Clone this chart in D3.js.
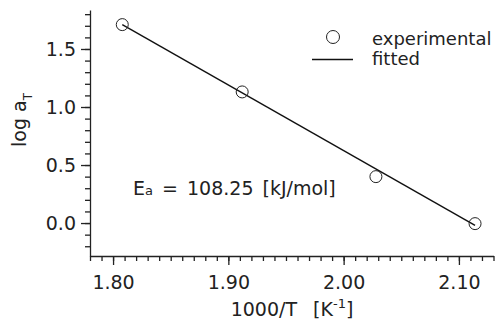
<!DOCTYPE html>
<html lang="en">
<head>
<meta charset="UTF-8">
<title>log aT vs 1000/T</title>
<script src="https://d3js.org/d3.v7.min.js"></script>
<style>
  body { margin: 0; background: #fff; }
  svg text { font-family: "DejaVu Sans", sans-serif; fill: #222; }
  .axis path, .axis line { stroke: #222; stroke-width: 1.3; }
  .axis text { font-size: 19px; fill: #222; font-family: "DejaVu Sans", sans-serif; }
</style>
</head>
<body>
<svg id="chart" width="496" height="323"></svg>
<script>
// measured data: 1000/T and log aT
const invT = [1.808, 1.912, 2.028, 2.114];
const logAT = [1.71, 1.13, 0.40, -0.005];
// fitted line end points
const fitX = [1.808, 2.114];
const fitY = [1.71, -0.02];
const xTicks = [1.80, 1.90, 2.00, 2.10];
const yTicks = [0.0, 0.5, 1.0, 1.5];
const legendLabels = ["experimental", "fitted"];
const activationEnergy = "108.25";

const svg = d3.select("#chart");
const x = d3.scaleLinear().domain([1.78, 2.13]).range([90, 493.5]);
const y = d3.scaleLinear().domain([-0.284, 1.836]).range([256, 10]);

const xMinor = d3.range(178, 214).map(d => d / 100);
const yMinor = d3.range(-2, 19).map(d => d / 10);

// x axis
svg.append("g").attr("class", "axis").attr("transform", "translate(0,256)")
    .call(d3.axisBottom(x).tickValues(xMinor).tickSize(5).tickSizeOuter(0).tickFormat(""))
    .call(g => g.select(".domain").remove());
svg.append("g").attr("class", "axis").attr("transform", "translate(0,256)")
    .call(d3.axisBottom(x).tickValues(xTicks).tickSize(9).tickSizeOuter(0)
        .tickPadding(11).tickFormat(d3.format(".2f")));

// y axis
svg.append("g").attr("class", "axis").attr("transform", "translate(90,0)")
    .call(d3.axisLeft(y).tickValues(yMinor).tickSize(5).tickSizeOuter(0).tickFormat(""))
    .call(g => g.select(".domain").remove());
svg.append("g").attr("class", "axis").attr("transform", "translate(90,0)")
    .call(d3.axisLeft(y).tickValues(yTicks).tickSize(9).tickSizeOuter(0)
        .tickPadding(5).tickFormat(d3.format(".1f")));

// axis titles
const xTitle = svg.append("text")
    .attr("x", 292).attr("y", 316)
    .attr("text-anchor", "middle")
    .style("font-size", "19px")
    .style("word-spacing", "10px");
xTitle.append("tspan").text("1000/T [K");
xTitle.append("tspan").attr("dy", -8).style("font-size", "13px").text("-1");
xTitle.append("tspan").attr("dy", 8).text("]");

const yTitle = svg.append("text")
    .attr("transform", "translate(26,120) rotate(-90)")
    .attr("text-anchor", "middle")
    .style("font-size", "19px");
yTitle.append("tspan").text("log a");
yTitle.append("tspan").attr("dy", 6).style("font-size", "12px").text("T");

// fitted line
const line = d3.line().x(d => x(d[0])).y(d => y(d[1]));
svg.append("path")
    .datum(d3.zip(fitX, fitY))
    .attr("fill", "none")
    .attr("stroke", "#111")
    .attr("stroke-width", 1.4)
    .attr("d", line);

// experimental points
svg.selectAll("circle.pt")
    .data(d3.zip(invT, logAT))
    .join("circle")
    .attr("class", "pt")
    .attr("cx", d => x(d[0]))
    .attr("cy", d => y(d[1]))
    .attr("r", 6)
    .attr("fill", "none")
    .attr("stroke", "#222")
    .attr("stroke-width", 1);

// legend
svg.append("circle")
    .attr("cx", 333).attr("cy", 37).attr("r", 6.5)
    .attr("fill", "none").attr("stroke", "#222").attr("stroke-width", 1);
svg.append("line")
    .attr("x1", 312).attr("x2", 353).attr("y1", 59.5).attr("y2", 59.5)
    .attr("stroke", "#111").attr("stroke-width", 1.4);
svg.selectAll("text.legend")
    .data(legendLabels)
    .join("text")
    .attr("class", "legend")
    .attr("x", 372)
    .attr("y", (d, i) => 45 + i * 20)
    .style("font-size", "18px")
    .text(d => d);

// activation energy annotation
const ea = svg.append("text")
    .attr("x", 133).attr("y", 195)
    .style("font-size", "19px")
    .style("word-spacing", "3px");
ea.append("tspan").text("E");
ea.append("tspan").style("font-size", "13px").text("a");
ea.append("tspan").attr("xml:space", "preserve").text(" = " + activationEnergy + " [kJ/mol]");
</script>
</body>
</html>
